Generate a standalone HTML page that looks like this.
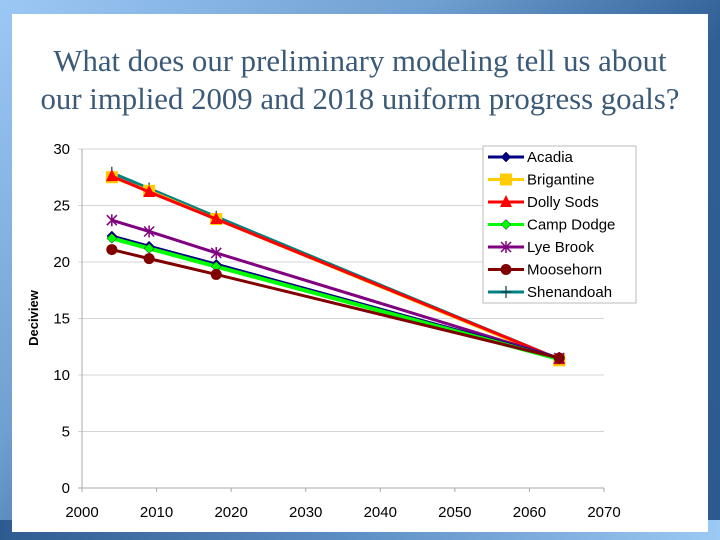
<!DOCTYPE html>
<html><head><meta charset="utf-8"><style>
body{margin:0;width:720px;height:540px;overflow:hidden;font-family:"Liberation Sans",sans-serif}
#bg{position:absolute;left:0;top:0;width:720px;height:540px;background:linear-gradient(135deg,#9cc8f5 0%,#6f9fd0 35%,#2f5f95 60%,#2c5a8f 100%)}
#bot{position:absolute;left:0;top:520px;width:720px;height:20px;background:linear-gradient(90deg,#2e5b90,#5f90c5 50%,#9ccaf5)}
#panel{position:absolute;left:12px;top:14px;width:696px;height:518px;background:#fff}
#title{position:absolute;left:0;top:42px;width:720px;text-align:center;font-family:"Liberation Serif",serif;font-size:30.8px;line-height:38px;color:#3b5a78;white-space:nowrap}
</style></head><body>
<div id="bg"></div>
<div id="bot"></div>
<div id="panel"></div>
<div id="title">What does our preliminary modeling tell us about<br>our implied 2009 and 2018 uniform progress goals?</div>
<svg id="chart" width="720" height="540" style="position:absolute;left:0;top:0"></svg>
<script>
const years=[2004,2009,2018,2064];
const seriesNames=["Acadia","Brigantine","Dolly Sods","Camp Dodge","Lye Brook","Moosehorn","Shenandoah"];
const acadia=[22.3,21.4,19.8,11.5];
const brigantine=[27.5,26.3,23.8,11.3];
const dollySods=[27.6,26.2,23.8,11.4];
const campDodge=[22.1,21.2,19.6,11.4];
const lyeBrook=[23.7,22.7,20.8,11.5];
const moosehorn=[21.1,20.3,18.9,11.5];
const shenandoah=[27.9,26.5,24.0,11.4];
const yTicks=[0,5,10,15,20,25,30];
const xTicks=[2000,2010,2020,2030,2040,2050,2060,2070];
const NS="http://www.w3.org/2000/svg";
const svg=document.getElementById('chart');
const X=v=>82+(v-2000)*(604-82)/70;
const Y=v=>488-v*(488-149)/30;
function mk(t,a,p){const e=document.createElementNS(NS,t);for(const k in a)e.setAttribute(k,a[k]);(p||svg).appendChild(e);return e;}
yTicks.forEach(t=>{
 const g=mk('line',{x1:78,x2:604,y1:Y(t),y2:Y(t),stroke:t===0?'#aaa':'#d4d4d4','stroke-width':1});
 
 
 const l=mk('text',{x:70,y:Y(t)+5,'text-anchor':'end','font-size':15,fill:'#000'});l.textContent=t;
 
 
});
mk('line',{x1:82,x2:82,y1:149,y2:492,stroke:'#aaa'});
xTicks.forEach(t=>{
 mk('line',{x1:X(t),x2:X(t),y1:488,y2:492,stroke:'#aaa'});
 const l=mk('text',{x:X(t),y:517,'text-anchor':'middle','font-size':15,fill:'#000'});l.textContent=t;
 
 
});
const yt=mk('text',{x:0,y:0,transform:'translate(38,318) rotate(-90)','text-anchor':'middle','font-size':13,'font-weight':'bold'});yt.textContent='Deciview';


const data=[acadia,brigantine,dollySods,campDodge,lyeBrook,moosehorn,shenandoah];
const colors=['#000080','#ffcc00','#ff0000','#00ff00','#800080','#800000','#008080'];
const markers=['diamond','square','triangle','diamond','star','circle','plus'];
function marker(type,x,y,c,g){
 if(type==='diamond')mk('polygon',{points:`${x},${y-5} ${x+5},${y} ${x},${y+5} ${x-5},${y}`,fill:c,stroke:'#000040','stroke-width':0.5},g);
 else if(type==='square')mk('rect',{x:x-6,y:y-6,width:12,height:12,fill:c},g);
 else if(type==='triangle')mk('polygon',{points:`${x},${y-7} ${x+6},${y+5} ${x-6},${y+5}`,fill:c},g);
 else if(type==='circle')mk('circle',{cx:x,cy:y,r:5.5,fill:c},g);
 else if(type==='star'){mk('path',{d:`M${x-5} ${y-5}L${x+5} ${y+5}M${x-5} ${y+5}L${x+5} ${y-5}M${x} ${y-6}L${x} ${y+6}`,stroke:c,'stroke-width':1.5},g);}
 else if(type==='plus'){mk('path',{d:`M${x-5} ${y}L${x+5} ${y}M${x} ${y-6}L${x} ${y+6}`,stroke:'#004040','stroke-width':1.2},g);}
}
const order=[6,1,2,4,0,3,5];
order.forEach(i=>{
 const g=mk('g',{});
 
 
 const pts=years.map((y,j)=>X(y)+','+Y(data[i][j])).join(' ');
 mk('polyline',{points:pts,fill:'none',stroke:colors[i],'stroke-width':i===3?4:3},g);
 years.forEach((y,j)=>marker(markers[i],X(y),Y(data[i][j]),colors[i],g));
});
const lg=mk('g',{});


mk('rect',{x:483,y:146,width:153,height:157,fill:'#fff',stroke:'#bbb'},lg);
seriesNames.forEach((n,i)=>{
 const y=157+i*22.5;
 const e=mk('g',{},lg);
 
 
 mk('line',{x1:488,x2:524,y1:y,y2:y,stroke:colors[i],'stroke-width':3},e);
 marker(markers[i],506,y,colors[i],e);
 const t=mk('text',{x:527,y:y+5,'font-size':15,fill:'#000'},e);t.textContent=n;
});
</script>
</body></html>
